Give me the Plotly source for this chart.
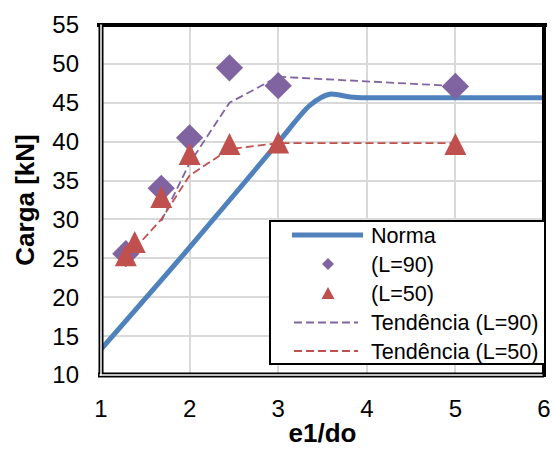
import plotly.graph_objects as go
import pandas as pd

# ---- data ----
norma_x = [1.0, 2.0, 3.0, 3.36, 3.58, 3.81, 4.0, 5.0, 6.0]
norma_y = [13.3, 26.4, 39.9, 44.7, 46.1, 45.75, 45.65, 45.65, 45.65]

l90_x = [1.28, 1.68, 2.0, 2.45, 3.0, 5.0]
l90_y = [25.6, 34.0, 40.5, 49.5, 47.2, 47.1]

l50_x = [1.28, 1.38, 1.68, 2.0, 2.45, 3.0, 5.0]
l50_y = [25.4, 27.1, 32.9, 38.4, 39.7, 39.9, 39.7]

x_ticks = [1, 2, 3, 4, 5, 6]
y_ticks = [10, 15, 20, 25, 30, 35, 40, 45, 50, 55]

legend_labels = ["Norma", "(L=90)", "(L=50)", "Tendência (L=90)", "Tendência (L=50)"]

BLUE = "#4F81BD"
PURPLE = "#8064A2"
RED = "#C0504D"
GRID = "#D9D9D9"
FONT = "Liberation Sans, Arial, sans-serif"

# two-period moving-average trend lines
t90 = pd.Series(l90_y).rolling(2).mean()
t50 = pd.Series(l50_y).rolling(2).mean()

fig = go.Figure()
fig.add_trace(go.Scatter(x=norma_x, y=norma_y, mode="lines", name=legend_labels[0],
                         line=dict(color=BLUE, width=5, shape="spline", smoothing=0.8)))
fig.add_trace(go.Scatter(x=l90_x[1:], y=t90[1:], mode="lines", name=legend_labels[3],
                         line=dict(color=PURPLE, width=1.8, dash="8px,4px")))
fig.add_trace(go.Scatter(x=l50_x[1:], y=t50[1:], mode="lines", name=legend_labels[4],
                         line=dict(color=RED, width=1.8, dash="8px,4px")))
fig.add_trace(go.Scatter(x=l90_x, y=l90_y, mode="markers", name=legend_labels[1],
                         marker=dict(symbol="diamond", size=21, color=PURPLE)))
# upward triangle as tall as it is wide, centred on the point
fig.add_trace(go.Scatter(x=l50_x, y=l50_y, mode="markers", name=legend_labels[2],
                         marker=dict(symbol="arrow-down", angle=180, size=22, standoff=11,
                                     color=RED)))

# plot area in pixels
X0, X1, Y0, Y1 = 101, 544, 25, 375


def px(x):
    return (x - X0) / (X1 - X0)


def py(y):
    return (Y1 - y) / (Y1 - Y0)


shapes = []
# plot frame: solid top/right, double left/bottom
shapes.append(dict(type="line", xref="paper", yref="paper", x0=px(97), x1=px(547), y0=1, y1=1,
                   line=dict(color="black", width=4), layer="above"))
shapes.append(dict(type="line", xref="paper", yref="paper", x0=1, x1=1, y0=py(377), y1=py(23),
                   line=dict(color="black", width=4), layer="above"))
for (a, b, c, d) in [(0, 0, py(377), 1), (px(98), px(544), 0, 0)]:
    shapes.append(dict(type="line", xref="paper", yref="paper", x0=a, x1=b, y0=c, y1=d,
                       line=dict(color="black", width=5), layer="above"))
for (a, b, c, d) in [(0, 0, py(375.5), py(24.5)), (px(99.5), px(542.5), 0, 0)]:
    shapes.append(dict(type="line", xref="paper", yref="paper", x0=a, x1=b, y0=c, y1=d,
                       line=dict(color="white", width=1.5), layer="above"))

# legend box
LX0, LX1, LY0, LY1 = 270, 545, 221, 364
shapes.append(dict(type="rect", xref="paper", yref="paper", x0=px(LX0), x1=px(LX1),
                   y0=py(LY1), y1=py(LY0), fillcolor="white",
                   line=dict(color="black", width=2), layer="above"))
rows = [235, 264, 293, 322.5, 351]
sx = 328
shapes.append(dict(type="line", xref="paper", yref="paper", x0=px(292), x1=px(363),
                   y0=py(rows[0]), y1=py(rows[0]), line=dict(color=BLUE, width=5), layer="above"))
d = 6
shapes.append(dict(type="path", xref="paper", yref="paper", layer="above",
                   path=f"M{px(sx - d)},{py(rows[1])} L{px(sx)},{py(rows[1] - d)} "
                        f"L{px(sx + d)},{py(rows[1])} L{px(sx)},{py(rows[1] + d)} Z",
                   fillcolor=PURPLE, line=dict(width=0)))
shapes.append(dict(type="path", xref="paper", yref="paper", layer="above",
                   path=f"M{px(sx - 6.5)},{py(rows[2] + 6)} L{px(sx)},{py(rows[2] - 6)} "
                        f"L{px(sx + 6.5)},{py(rows[2] + 6)} Z",
                   fillcolor=RED, line=dict(width=0)))
for r, col in [(rows[3], PURPLE), (rows[4], RED)]:
    shapes.append(dict(type="line", xref="paper", yref="paper", x0=px(294), x1=px(358),
                       y0=py(r), y1=py(r), line=dict(color=col, width=1.8, dash="8px,4px"),
                       layer="above"))

annotations = []
for label, r in zip(legend_labels, rows):
    annotations.append(dict(xref="paper", yref="paper", x=px(369), y=py(r), xanchor="left",
                            yanchor="middle", text=label, showarrow=False,
                            font=dict(family=FONT, size=21.6, color="black")))

fig.update_layout(
    width=555, height=450,
    margin=dict(l=X0, r=555 - X1, t=Y0, b=450 - Y1),
    paper_bgcolor="white", plot_bgcolor="white",
    showlegend=False,
    font=dict(family=FONT, color="black"),
    shapes=shapes, annotations=annotations,
)
fig.update_xaxes(range=[1, 6], tickvals=x_ticks, ticktext=[str(v) for v in x_ticks],
                 showgrid=True, gridcolor=GRID, gridwidth=1.8, zeroline=False,
                 showline=False, ticks="", ticklabelstandoff=17, automargin=False,
                 tickfont=dict(family=FONT, size=24, color="black"),
                 title=dict(text="<b>e1/do</b>", standoff=2,
                            font=dict(family=FONT, size=26, color="black")))
fig.update_yaxes(range=[10, 55], tickvals=y_ticks, ticktext=[str(v) for v in y_ticks],
                 showgrid=True, gridcolor=GRID, gridwidth=1.8, zeroline=False,
                 showline=False, ticks="", ticklabelstandoff=21, automargin=False,
                 tickfont=dict(family=FONT, size=24, color="black"),
                 title=dict(text="<b>Carga [kN]</b>", standoff=10,
                            font=dict(family=FONT, size=26, color="black")))

fig.write_html("out.html")
